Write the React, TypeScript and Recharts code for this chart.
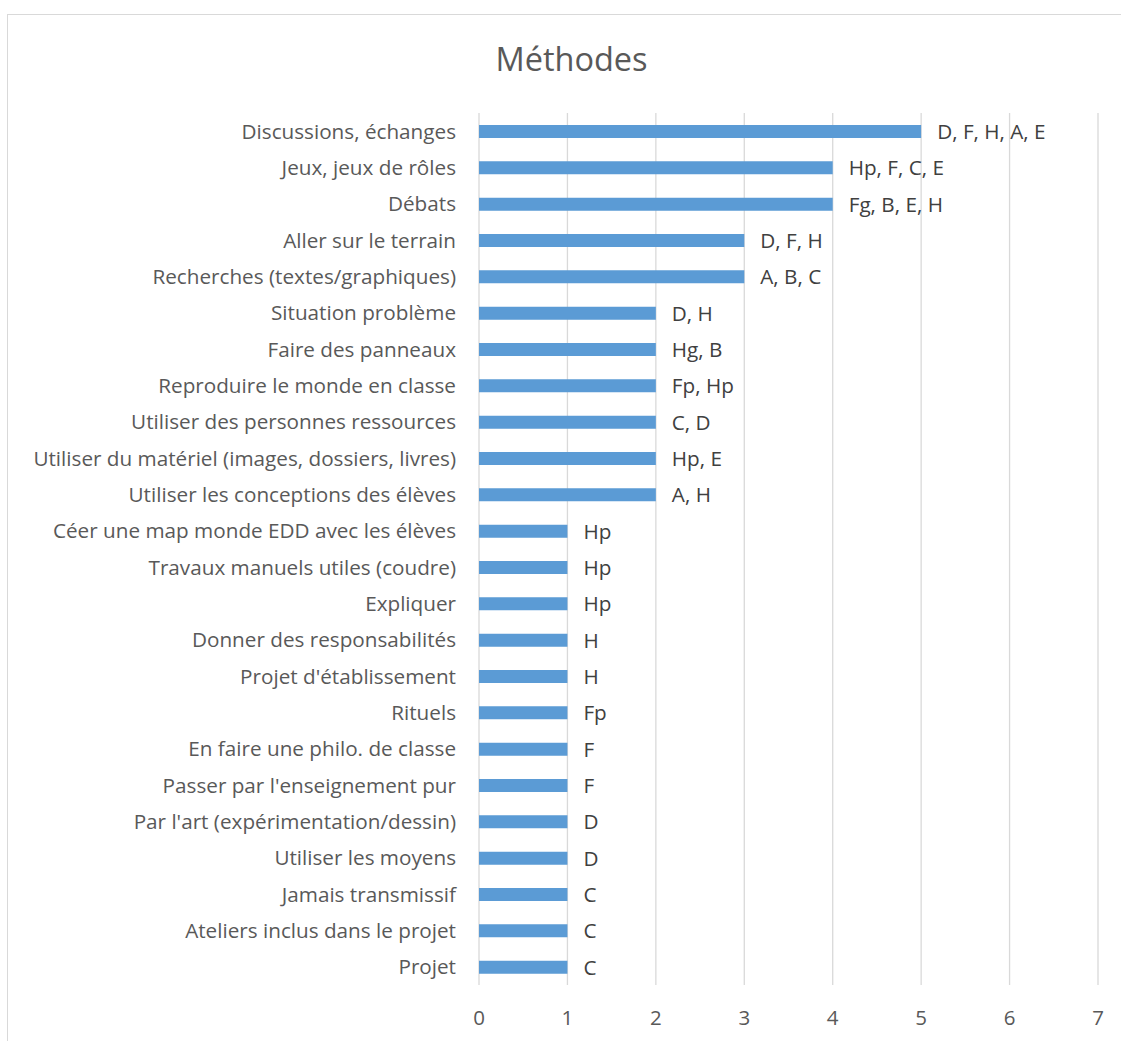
import React from 'react';
import { BarChart, Bar, XAxis, YAxis, CartesianGrid, LabelList } from 'recharts';

const categories = [
  'Discussions, échanges',
  'Jeux, jeux de rôles',
  'Débats',
  'Aller sur le terrain',
  'Recherches (textes/graphiques)',
  'Situation problème',
  'Faire des panneaux',
  'Reproduire le monde en classe',
  'Utiliser des personnes ressources',
  'Utiliser du matériel (images, dossiers, livres)',
  'Utiliser les conceptions des élèves',
  'Céer une map monde EDD avec les élèves',
  'Travaux manuels utiles (coudre)',
  'Expliquer',
  'Donner des responsabilités',
  "Projet d'établissement",
  'Rituels ',
  'En faire une philo. de classe',
  "Passer par l'enseignement pur",
  "Par l'art (expérimentation/dessin)",
  'Utiliser les moyens',
  'Jamais transmissif',
  'Ateliers inclus dans le projet',
  'Projet',
];

const values = [5, 4, 4, 3, 3, 2, 2, 2, 2, 2, 2, 1, 1, 1, 1, 1, 1, 1, 1, 1, 1, 1, 1, 1];

const labels = [
  'D, F, H, A, E',
  'Hp, F, C, E',
  'Fg, B, E, H',
  'D, F, H',
  'A, B, C',
  'D, H',
  'Hg, B',
  'Fp, Hp',
  'C, D',
  'Hp, E',
  'A, H',
  'Hp',
  'Hp',
  'Hp',
  'H',
  'H',
  'Fp',
  'F',
  'F',
  'D',
  'D',
  'C',
  'C',
  'C',
];

const xTicks = [0, 1, 2, 3, 4, 5, 6, 7];

const data = categories.map((name, i) => ({ name, value: values[i], label: labels[i] }));

const FONT = '"Open Sans", sans-serif';

export default function App() {
  return (
    <div style={{ position: 'absolute', left: 0, top: 0, width: 1121, height: 1041, overflow: 'hidden', background: '#fff', fontFamily: FONT }}>
      <div style={{ position: 'absolute', left: 7, top: 14, width: 1200, height: 1100, border: '1px solid #d9d9d9', boxSizing: 'border-box' }} />
      <div style={{ position: 'absolute', left: 0, width: 1143, top: 37, textAlign: 'center', fontSize: 32.5, lineHeight: '44px', color: '#595959' }}>Méthodes</div>
      <div style={{ position: 'absolute', left: 0, top: 0 }}>
        <BarChart
          width={1121}
          height={1041}
          data={data}
          layout="vertical"
          margin={{ top: 113, right: 23, bottom: 26, left: 0 }}
          barCategoryGap={0}
        >
          <CartesianGrid horizontal={false} vertical={true} stroke="#d9d9d9" strokeWidth={1.3} />
          <XAxis
            type="number"
            domain={[0, 7]}
            ticks={xTicks}
            axisLine={false}
            tickLine={false}
            tickSize={0}
            tickMargin={25}
            height={30}
            tick={{ fill: '#595959', fontSize: 20.5, fontFamily: FONT }}
            interval={0}
          />
          <YAxis
            type="category"
            dataKey="name"
            width={479}
            axisLine={false}
            tickLine={false}
            tickSize={0}
            tickMargin={23}
            interval={0}
            tick={{ fill: '#595959', fontSize: 20.7, fontFamily: FONT }}
          />
          <Bar dataKey="value" fill="#5b9bd5" barSize={13} isAnimationActive={false}>
            <LabelList dataKey="label" position="right" offset={16} fill="#404040" fontSize={20.7} fontFamily={FONT} />
          </Bar>
        </BarChart>
      </div>
    </div>
  );
}
